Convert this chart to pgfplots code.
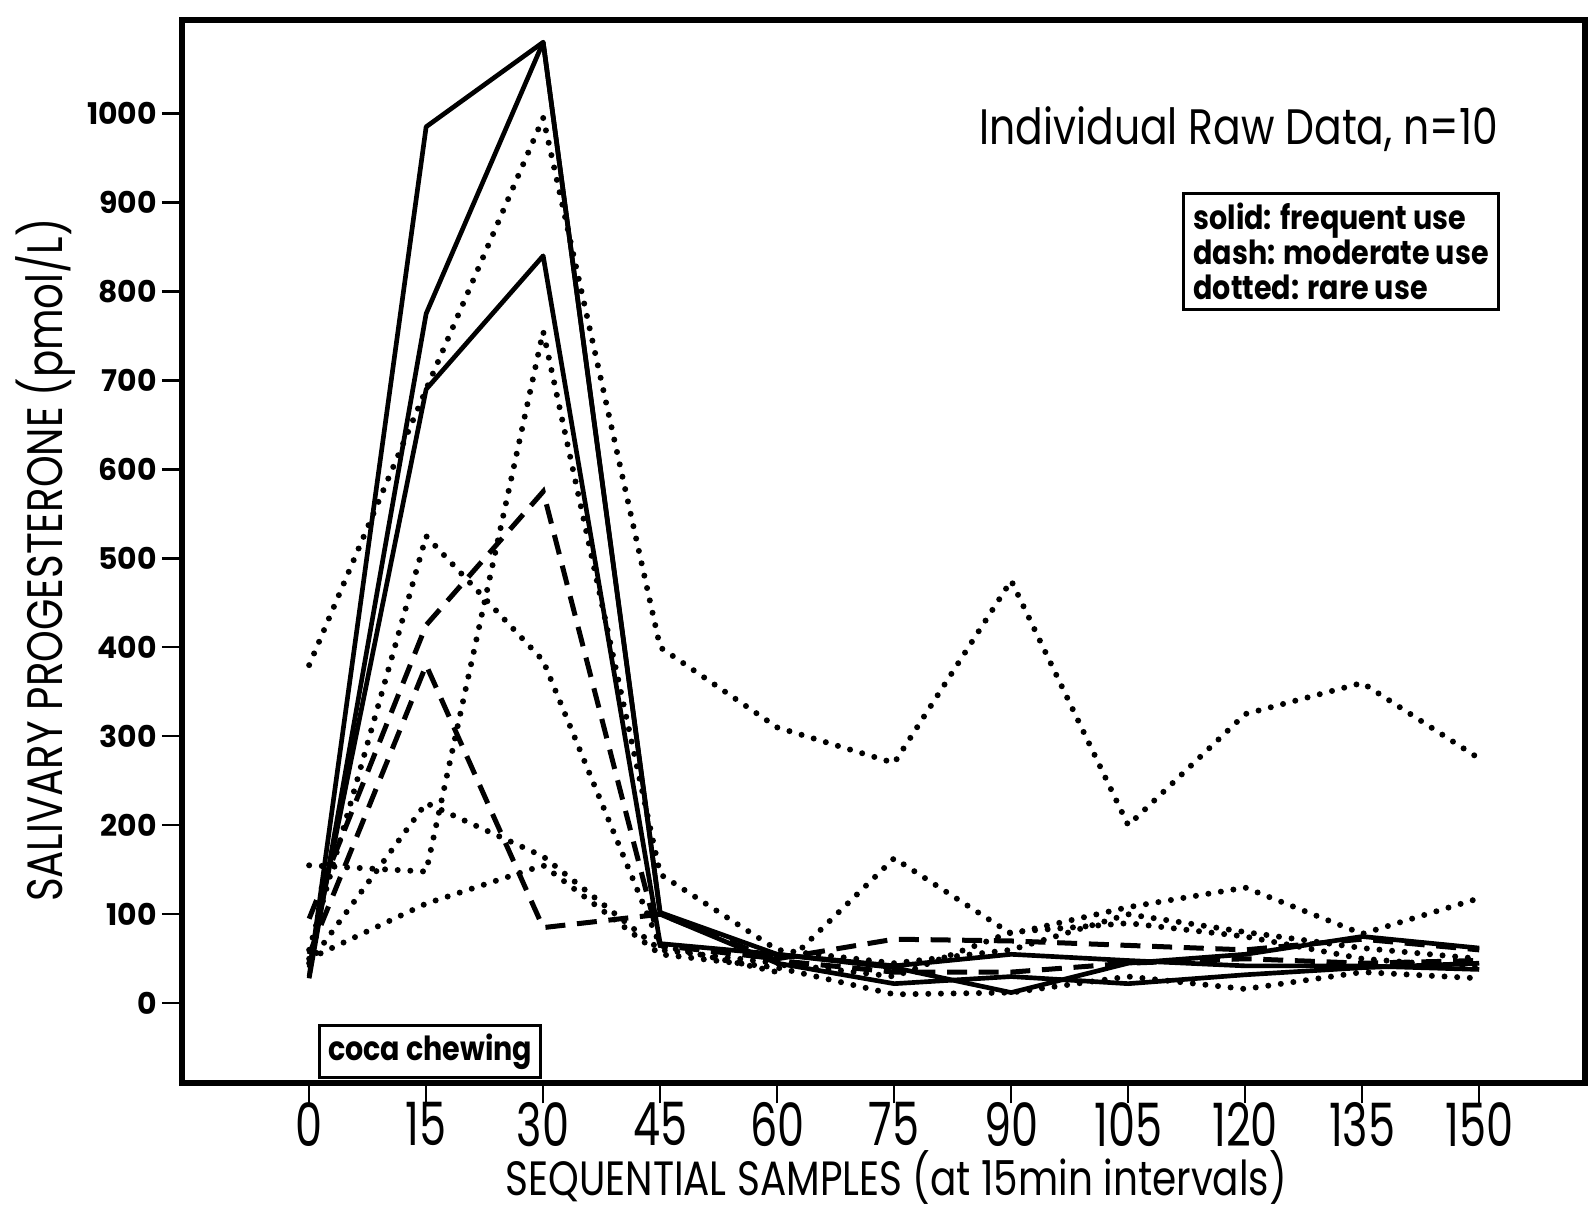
\documentclass[border=0pt]{standalone}
\usepackage{fontspec}
\setmainfont{Poppins}
\newfontfamily\ticond[FakeStretch=0.72]{Poppins}
\newfontfamily\labcond[FakeStretch=0.81]{Poppins}
\newfontfamily\semicond[FakeStretch=0.82]{Poppins}
\newfontfamily\legcond[FakeStretch=0.86]{Poppins}
\usepackage{pgfplots}
\pgfplotsset{compat=1.18}
\pgfplotstableread{
t s1 s2 s3 d1 d2 p1 p2 p3 p4 p5
0 30 28 40 95 55 380 155 60 45 50
15 985 775 690 425 380 690 148 525 225 112
30 1080 1080 840 575 85 995 755 385 165 155
45 102 100 67 65 100 400 145 65 60 55
60 55 45 55 50 48 310 60 35 45 40
75 42 22 40 72 35 270 45 163 30 10
90 55 30 12 70 35 475 60 78 80 12
105 48 22 45 65 45 200 100 108 90 30
120 42 32 55 60 50 325 80 130 75 16
135 42 40 75 72 45 360 62 78 50 35
150 38 45 62 60 48 275 50 118 40 28
}\data
\begin{document}
\begin{tikzpicture}
\begin{axis}[
 scale only axis, width=421bp, height=319bp,
 xmin=-16.3, xmax=163.6, ymin=-90, ymax=1105,
 axis line style={line width=1.8bp},
 xtick={0,15,...,150}, ytick={0,100,...,1000},
 tick align=outside, major tick length=6bp,
 every tick/.style={line width=0.7bp, black},
 xtick pos=bottom, ytick pos=left,
 /pgf/number format/assume math mode=true,
 /pgf/number format/1000 sep={},
 xticklabel style={font=\ticond\fontsize{18}{18}\selectfont, inner sep=0pt, yshift=0.5bp},
 yticklabel style={font=\bfseries\fontsize{9}{9}\selectfont, xshift=2bp},
 xlabel={SEQUENTIAL SAMPLES (at 15min intervals)},
 ylabel={SALIVARY PROGESTERONE (pmol/L)},
 xlabel style={font=\labcond\fontsize{14.5}{14.5}\selectfont, inner sep=0pt, at={(axis description cs:0.509,-0.089)}, anchor=center},
 ylabel style={font=\labcond\fontsize{15}{15}\selectfont, at={(axis description cs:-0.0974,0.492)}, anchor=center},
 solidl/.style={black, line width=1.4bp, line join=round},
 dashl/.style={black, line width=1.5bp, dash pattern=on 6bp off 3.5bp},
 dotl/.style={black, line width=1.8bp, line cap=round, dash pattern=on 0bp off 3.8bp},
]
\addplot[solidl] table[x=t,y=s1]{\data};
\addplot[solidl] table[x=t,y=s2]{\data};
\addplot[solidl] table[x=t,y=s3]{\data};
\addplot[dashl] table[x=t,y=d1]{\data};
\addplot[dashl] table[x=t,y=d2]{\data};
\addplot[dotl] table[x=t,y=p1]{\data};
\addplot[dotl] table[x=t,y=p2]{\data};
\addplot[dotl] table[x=t,y=p3]{\data};
\addplot[dotl] table[x=t,y=p4]{\data};
\addplot[dotl] table[x=t,y=p5]{\data};
\node[anchor=east, font=\semicond\fontsize{15}{15}\selectfont] at (axis cs:153.9,982) {Individual Raw Data, n=10};
\node[draw, line width=0.9bp, inner sep=3bp, align=left, font=\legcond\bfseries\fontsize{10}{10.5}\selectfont] at (axis cs:132.3,845) {solid: frequent use\\dash: moderate use\\dotted: rare use};
\node[draw, line width=0.9bp, inner sep=2.5bp, font=\legcond\bfseries\fontsize{10}{10}\selectfont] at (axis cs:15.5,-54) {coca chewing};
\end{axis}
\pgfresetboundingbox
\path[use as bounding box] (-54.6bp,-38.4bp) rectangle (422.1bp,325bp);
\end{tikzpicture}
\end{document}
